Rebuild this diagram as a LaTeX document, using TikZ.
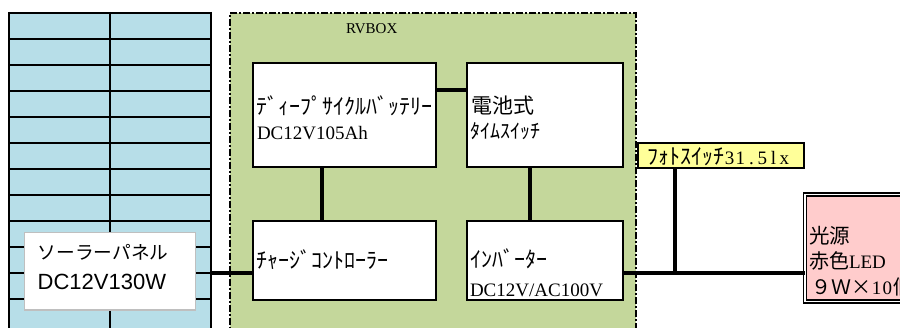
\documentclass[tikz,border=0pt]{standalone}
\usepackage{fontspec}
\setmainfont{Liberation Serif}
\newfontfamily\jp{Noto Sans CJK JP}
\newfontfamily\lsans{Liberation Sans}
\newcommand\jpsz[1]{\jp\fontsize{#1}{#1}\selectfont}
\newcommand\rmsz[1]{\rmfamily\fontsize{#1}{#1}\selectfont}
\newcommand\mcell[1]{\makebox[11pt]{#1}}
\usetikzlibrary{calc}
\definecolor{panelblue}{RGB}{183,222,232}
\definecolor{boxgreen}{RGB}{196,215,155}
\definecolor{psyellow}{RGB}{255,255,153}
\definecolor{ledpink}{RGB}{255,204,204}
\definecolor{lblgray}{RGB}{191,191,191}
\begin{document}
\begin{tikzpicture}[x=1pt,y=-1pt,
  ubox/.style={draw=black, line width=2pt, fill=white, rectangle, inner sep=0pt, outer sep=0pt, anchor=north west},
  conn/.style={line width=4pt},
  grid/.style={line width=1.8pt},
  txt/.style={anchor=west, inner sep=0pt, outer sep=0pt}]
\useasboundingbox (0,0) rectangle (900,327);
\clip (0,0) rectangle (900,327);
% solar panel
\node[fill=panelblue, rectangle, inner sep=0pt, outer sep=0pt, anchor=north west,
  minimum width=201.7, minimum height=340] (panel) at (9,12.7) {};
\foreach \k in {0,...,11}{
  \draw[grid] (9,12.7+26.05*\k) -- (210.7,12.7+26.05*\k);
}
\foreach \xx in {9,110,210.7}{
  \draw[grid] (\xx,11.8) -- (\xx,350);
}
\node[draw=lblgray, line width=1.5pt, fill=white, rectangle, inner sep=0pt, outer sep=0pt,
  anchor=north west, minimum width=171.4, minimum height=77.3] (sol) at (24.3,232.7) {};
\node[txt, font=\jpsz{18.7}] (sol1) at (37.7,252.3) {ソーラーパネル};
\node[txt, font=\lsans\fontsize{22}{22}\selectfont] (sol2) at (37.7,281.7) {DC12V130W};
% RV box
\node[draw=black, fill=boxgreen, line width=2pt, dash pattern=on 7pt off 2pt on 2pt off 2pt,
  rectangle, inner sep=0pt, outer sep=0pt, anchor=north west,
  minimum width=405.7, minimum height=340] (rv) at (230,13.3) {};
\node[font=\rmsz{15}, inner sep=0pt] (rvl) at (371.7,29) {RVBOX};
% units
\node[ubox, minimum width=183, minimum height=104] (bat) at (252.7,63.3) {};
\node[ubox, minimum width=156.6, minimum height=104] (tim) at (466.7,63.3) {};
\node[ubox, minimum width=183, minimum height=79] (chg) at (252.7,221) {};
\node[ubox, minimum width=156.6, minimum height=79] (inv) at (466.7,221) {};
\node[ubox, fill=psyellow, minimum width=166.5, minimum height=24.4] (ps) at (637.5,143.3) {};
\node[draw=black, double=white, line width=1.2pt, double distance=1.8pt, fill=ledpink,
  rectangle, inner sep=0pt, outer sep=0pt, anchor=north west,
  minimum width=150, minimum height=107] (led) at (805,194.5) {};
% texts
\node[txt, font=\jpsz{22}] (bat1) at (256.5,106) {ﾃﾞｨｰﾌﾟｻｲｸﾙﾊﾞｯﾃﾘｰ};
\node[txt, font=\rmsz{19}] (bat2) at (257,133) {DC12V105Ah};
\node[txt, font=\jpsz{21}] (tim1) at (471,106) {電池式};
\node[txt, font=\jpsz{20}] (tim2) at (470.5,131) {ﾀｲﾑｽｲｯﾁ};
\node[txt, font=\jpsz{22}] (chg1) at (256.5,259.3) {ﾁｬｰｼﾞｺﾝﾄﾛｰﾗｰ};
\node[txt, font=\jpsz{22}] (inv1) at (470,259) {ｲﾝﾊﾞｰﾀｰ};
\node[txt, font=\rmsz{19}] (inv2) at (470,290) {DC12V/AC100V};
\node[txt, font=\jpsz{22}] (ps1) at (647,156.7) {ﾌｫﾄｽｲｯﾁ{\rmsz{19}\mcell{3}\mcell{1}\mcell{.}\mcell{5}\mcell{l}\mcell{x}}};
\node[txt, font=\jpsz{20.5}] (led1) at (809,236) {光源};
\node[txt, font=\jpsz{20}] (led2) at (809,261) {赤色{\rmsz{19}LED}};
\node[txt, font=\jpsz{20}] (led3) at (811,287) {９Ｗ×{\rmsz{19}\mcell{1}\mcell{0}}個};
% connectors
\draw[conn] ([xshift=69.6pt]bat.south west) -- ([xshift=69.6pt]chg.north west);
\draw[conn] ([xshift=63.3pt]tim.south west) -- ([xshift=63.3pt]inv.north west);
\draw[conn] ([yshift=-26.7pt]bat.north east) -- ([yshift=-26.7pt]tim.north west);
\coordinate (sj) at (210.7,273.3);
\draw[conn] (sj) -- (sj -| chg.west);
\coordinate (bus) at (675,273.3);
\draw[conn] (bus -| inv.east) -- (bus -| led.west);
\draw[conn] (ps.south -| bus) -- (bus);
\end{tikzpicture}
\end{document}
